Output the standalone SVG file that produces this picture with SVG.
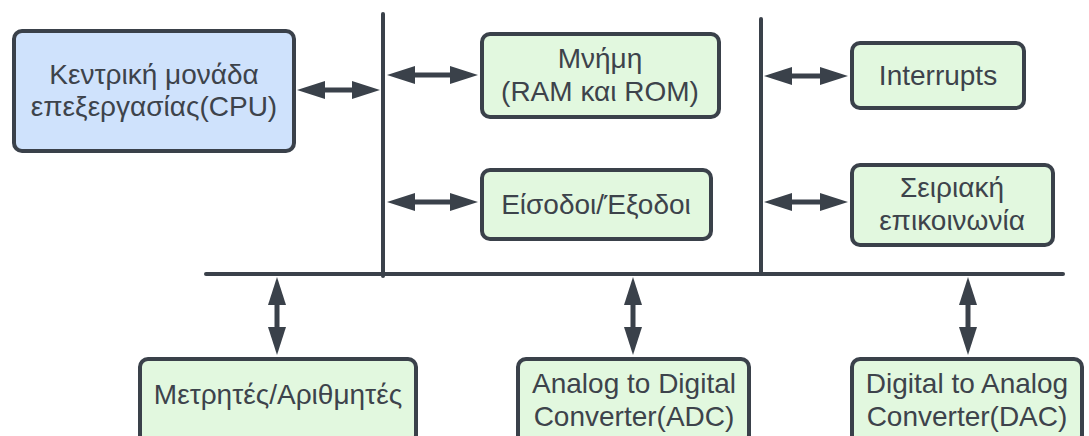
<svg xmlns="http://www.w3.org/2000/svg" width="1089" height="436" viewBox="0 0 1089 436">
  <style>
    .box { stroke: #3a414a; stroke-width: 4; }
    .cpu { fill: #cfe2fc; }
    .blk { fill: #e2f8df; }
    .lbl { font-family: "Liberation Sans", Arial, sans-serif; font-size: 28px; fill: #3d434b; text-anchor: middle; }
    .bus { stroke: #3a414a; stroke-width: 4; fill: none; stroke-linecap: round; }
    .link { stroke: #3a414a; stroke-width: 5; fill: none; marker-start: url(#head); marker-end: url(#head); }
  </style>
  <defs>
    <marker id="head" viewBox="0 0 28 18" refX="8" refY="9" markerWidth="28" markerHeight="18" markerUnits="userSpaceOnUse" orient="auto-start-reverse">
      <path d="M0,0 L28,9 L0,18 z" fill="#3a414a"/>
    </marker>
  </defs>

  <!-- bus lines -->
  <g id="bus">
    <line class="bus" x1="383" y1="14" x2="383" y2="276"/>
    <line class="bus" x1="761" y1="19" x2="761" y2="272"/>
    <line class="bus" x1="206" y1="274" x2="1063" y2="274"/>
  </g>

  <!-- connectors: shafts shortened by 20 at each end, heads reach the ends -->
  <g id="connectors">
    <line class="link" x1="317" y1="90" x2="360" y2="90"/>
    <line class="link" x1="407" y1="75" x2="458" y2="75"/>
    <line class="link" x1="407" y1="202" x2="458" y2="202"/>
    <line class="link" x1="784" y1="76" x2="828" y2="76"/>
    <line class="link" x1="784" y1="202" x2="828" y2="202"/>
    <line class="link" x1="277" y1="297" x2="277" y2="335"/>
    <line class="link" x1="633" y1="297" x2="633" y2="335"/>
    <line class="link" x1="968" y1="297" x2="968" y2="335"/>
  </g>

  <g id="cpu">
    <rect class="box cpu" x="14" y="31" width="280" height="120" rx="8"/>
    <text class="lbl" x="154" y="84">Κεντρική μονάδα</text>
    <text class="lbl" x="154" y="116">επεξεργασίας(CPU)</text>
  </g>

  <g id="memory">
    <rect class="box blk" x="482" y="34" width="237" height="83" rx="8"/>
    <text class="lbl" x="600" y="68">Μνήμη</text>
    <text class="lbl" x="600" y="101">(RAM και ROM)</text>
  </g>

  <g id="io">
    <rect class="box blk" x="482" y="170" width="229" height="69" rx="8"/>
    <text class="lbl" x="596" y="214">Είσοδοι/Έξοδοι</text>
  </g>

  <g id="interrupts">
    <rect class="box blk" x="852" y="43" width="172" height="65" rx="8"/>
    <text class="lbl" x="938" y="85">Interrupts</text>
  </g>

  <g id="serial">
    <rect class="box blk" x="852" y="165" width="201" height="80" rx="8"/>
    <text class="lbl" x="952" y="197">Σειριακή</text>
    <text class="lbl" x="952" y="230">επικοινωνία</text>
  </g>

  <g id="counters">
    <rect class="box blk" x="140" y="359" width="276" height="84" rx="8"/>
    <text class="lbl" x="278" y="404">Μετρητές/Αριθμητές</text>
  </g>

  <g id="adc">
    <rect class="box blk" x="518" y="359" width="231" height="84" rx="8"/>
    <text class="lbl" x="634" y="393">Analog to Digital</text>
    <text class="lbl" x="634" y="426">Converter(ADC)</text>
  </g>

  <g id="dac">
    <rect class="box blk" x="852" y="359" width="230" height="84" rx="8"/>
    <text class="lbl" x="967" y="393">Digital to Analog</text>
    <text class="lbl" x="967" y="426">Converter(DAC)</text>
  </g>
</svg>
